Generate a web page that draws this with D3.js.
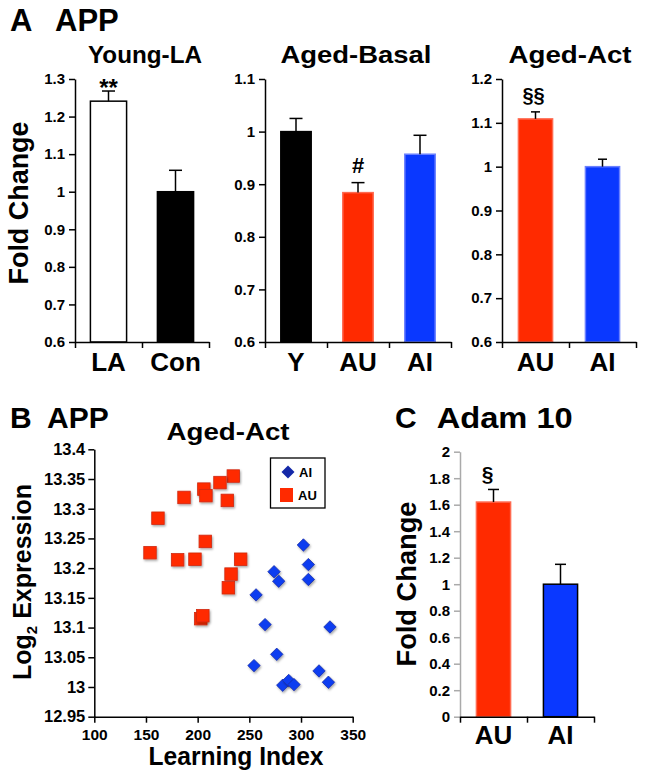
<!DOCTYPE html>
<html><head><meta charset="utf-8">
<script src="https://cdn.jsdelivr.net/npm/d3@7/dist/d3.min.js"></script>
<style>body{margin:0;background:#fff}svg{display:block}text{font-family:"Liberation Sans",Arial,sans-serif;font-weight:bold}</style>
</head><body>
<script>
// ---------- data ----------
const youngCats = ["LA", "Con"];
const youngVals = [1.241, 1.0];
const youngErr = [0.027, 0.057];
const youngTicks = [0.6, 0.7, 0.8, 0.9, 1.0, 1.1, 1.2, 1.3];
const youngTickLabels = ["0.6", "0.7", "0.8", "0.9", "1", "1.1", "1.2", "1.3"];

const basalCats = ["Y", "AU", "AI"];
const basalVals = [1.0, 0.884, 0.957];
const basalErr = [0.025, 0.019, 0.036];
const basalTicks = [0.6, 0.7, 0.8, 0.9, 1.0, 1.1];
const basalTickLabels = ["0.6", "0.7", "0.8", "0.9", "1", "1.1"];

const actCats = ["AU", "AI"];
const actVals = [1.109, 1.0];
const actErr = [0.016, 0.017];
const actTicks = [0.6, 0.7, 0.8, 0.9, 1.0, 1.1, 1.2];
const actTickLabels = ["0.6", "0.7", "0.8", "0.9", "1", "1.1", "1.2"];

const adamCats = ["AU", "AI"];
const adamVals = [1.62, 1.0];
const adamErr = [0.095, 0.15];
const adamTicks = [0, 0.2, 0.4, 0.6, 0.8, 1.0, 1.2, 1.4, 1.6, 1.8, 2.0];
const adamTickLabels = ["0", "0.2", "0.4", "0.6", "0.8", "1", "1.2", "1.4", "1.6", "1.8", "2"];

// scatter (Learning Index, Log2 Expression)
const auLearning = [234.5, 221.6, 206, 208, 186.8, 228.7, 161.6, 207.4, 153.9, 180.6, 197.4, 241.6, 232.3, 229.7, 203, 205];
const auExpr =     [13.355, 13.344, 13.333, 13.322, 13.319, 13.314, 13.284, 13.245, 13.226, 13.214, 13.215, 13.215, 13.190, 13.167, 13.115, 13.120];
const aiLearning = [302.3, 307.1, 307.1, 273.9, 278.4, 256.5, 265.2, 328, 276.5, 254.5, 317.4, 326.5, 282.3, 288.1, 293.2];
const aiExpr =     [13.239, 13.206, 13.181, 13.194, 13.178, 13.155, 13.105, 13.101, 13.055, 13.036, 13.027, 13.008, 13.003, 13.011, 13.004];
const scatterXTicks = [100, 150, 200, 250, 300, 350];
const scatterYTicks = [12.95, 13, 13.05, 13.1, 13.15, 13.2, 13.25, 13.3, 13.35, 13.4];
const scatterYTickLabels = ["12.95", "13", "13.05", "13.1", "13.15", "13.2", "13.25", "13.3", "13.35", "13.4"];

// ---------- drawing ----------
const RED = "#ff2a00", BLUE = "#0a38ff";
const svg = d3.select("body").append("svg").attr("width", 647).attr("height", 778);
const defs = svg.append("defs");
const f = defs.append("filter").attr("id", "sh").attr("x", "-50%").attr("y", "-50%").attr("width", "200%").attr("height", "200%");
f.append("feDropShadow").attr("dx", 1).attr("dy", 1.5).attr("stdDeviation", 1.2).attr("flood-color", "#000").attr("flood-opacity", 0.35);

function label(g, str, x, y, size, opts = {}) {
  const t = g.append("text").attr("x", x).attr("y", y).attr("font-size", size)
    .attr("text-anchor", opts.anchor || "middle").text(str);
  if (opts.width) t.attr("textLength", opts.width).attr("lengthAdjust", "spacingAndGlyphs");
  if (opts.rotate) t.attr("transform", `rotate(-90,${x},${y})`);
  return t;
}

function barPanel(cfg) {
  const g = svg.append("g");
  const y = d3.scaleLinear().domain(cfg.domain).range(cfg.yRange);
  const x = d3.scaleBand().domain(cfg.cats).range(cfg.xRange)
    .paddingInner(cfg.pad).paddingOuter(cfg.pad / 2);
  const xb = d3.scaleLinear().domain([0, cfg.cats.length]).range(cfg.xRange);
  // y axis
  const ya = g.append("g").attr("transform", `translate(${cfg.xRange[0]},0)`)
    .call(d3.axisLeft(y).tickValues(cfg.ticks).tickFormat((d, i) => cfg.tickLabels[i]).tickSize(6).tickSizeOuter(0).tickPadding(4));
  ya.selectAll("path,line").attr("stroke", cfg.yAxisColor || "#000").attr("stroke-width", 1.5);
  ya.selectAll("text").attr("font-size", cfg.tickSize || 15).attr("fill", "#000")
    .attr("font-family", '"Liberation Sans",Arial,sans-serif').attr("font-weight", "bold");
  // bars
  g.selectAll("rect.bar").data(cfg.vals).enter().append("rect")
    .attr("x", (d, i) => x(cfg.cats[i])).attr("width", x.bandwidth())
    .attr("y", d => y(d)).attr("height", d => y(cfg.domain[0]) - y(d))
    .attr("fill", (d, i) => cfg.colors[i])
    .attr("stroke", (d, i) => cfg.strokes[i]).attr("stroke-width", 1.5);
  // error bars
  cfg.vals.forEach((v, i) => {
    const cx = x(cfg.cats[i]) + x.bandwidth() / 2;
    g.append("line").attr("x1", cx).attr("x2", cx).attr("y1", y(v)).attr("y2", y(v + cfg.err[i])).attr("stroke", "#000").attr("stroke-width", 1.5);
    g.append("line").attr("x1", cx - cfg.cap / 2).attr("x2", cx + cfg.cap / 2).attr("y1", y(v + cfg.err[i])).attr("y2", y(v + cfg.err[i])).attr("stroke", "#000").attr("stroke-width", 1.5);
  });
  // x axis with boundary ticks
  const xa = g.append("g").attr("transform", `translate(0,${cfg.yRange[0]})`)
    .call(d3.axisBottom(xb).tickValues(d3.range(cfg.cats.length + 1)).tickFormat("").tickSize(6).tickSizeOuter(0));
  xa.selectAll("path,line").attr("stroke", "#000").attr("stroke-width", 1.5);
  cfg.cats.forEach((c, i) => label(g, c, x(c) + x.bandwidth() / 2, cfg.labelY, cfg.labelSize || 26));
  // annotations
  (cfg.marks || []).forEach(m => label(g, m.text, x(m.cat) + x.bandwidth() / 2 + (m.dx || 0), m.y, m.size));
  return g;
}

// Panel A titles
label(svg, "A", 10, 31, 31, {anchor: "start"});
label(svg, "APP", 55, 31, 31, {anchor: "start"});
label(svg, "Young-LA", 145, 63, 24, {width: 114});
label(svg, "Aged-Basal", 356, 63, 24, {width: 151});
label(svg, "Aged-Act", 570, 63, 24, {width: 123});
label(svg, "Fold Change", 28, 203, 27, {rotate: true, width: 163});

barPanel({cats: youngCats, vals: youngVals, err: youngErr, domain: [0.6, 1.3], ticks: youngTicks, tickLabels: youngTickLabels,
  xRange: [75, 209], yRange: [342, 79], pad: 0.46, colors: ["#fff", "#000"], strokes: ["#000", "#000"], cap: 13, labelY: 371,
  marks: [{cat: "LA", text: "**", y: 96, size: 24}]});
barPanel({cats: basalCats, vals: basalVals, err: basalErr, domain: [0.6, 1.1], ticks: basalTicks, tickLabels: basalTickLabels,
  xRange: [265, 451], yRange: [342, 79], pad: 0.51, colors: ["#000", RED, BLUE], strokes: ["#000", "#ff6a50", "#6a80ff"], cap: 13, labelY: 371,
  marks: [{cat: "AU", text: "#", y: 173, size: 22}]});
barPanel({cats: actCats, vals: actVals, err: actErr, domain: [0.6, 1.2], ticks: actTicks, tickLabels: actTickLabels,
  xRange: [502, 636], yRange: [342, 79], pad: 0.49, colors: [RED, BLUE], strokes: ["#ff6a50", "#6a80ff"], cap: 9, labelY: 371,
  marks: [{cat: "AU", text: "§§", y: 102, size: 20, dx: -2}]});

// Panel C
label(svg, "C", 395, 428, 30, {anchor: "start"});
label(svg, "Adam 10", 436.7, 428, 30, {anchor: "start", width: 136});
label(svg, "Fold Change", 416, 584, 27, {rotate: true, width: 165});
barPanel({cats: adamCats, vals: adamVals, err: adamErr, domain: [0, 2], ticks: adamTicks, tickLabels: adamTickLabels,
  xRange: [460, 594], yRange: [716.7, 451.7], pad: 0.49, colors: [RED, BLUE], strokes: ["#ff6a50", "#000"], cap: 11, labelY: 744,
  yAxisColor: "#aaa", marks: [{cat: "AU", text: "§", y: 481, size: 21, dx: -6}]});

// Panel B scatter
const gB = svg.append("g");
label(gB, "B", 10, 428, 30, {anchor: "start"});
label(gB, "APP", 47, 428, 30, {anchor: "start"});
label(gB, "Aged-Act", 228, 440, 24, {width: 123});
const xs = d3.scaleLinear().domain([100, 350]).range([94.3, 352.7]);
const ys = d3.scaleLinear().domain([12.95, 13.4]).range([716.7, 449.3]);
const bya = gB.append("g").attr("transform", "translate(94.3,0)")
  .call(d3.axisLeft(ys).tickValues(scatterYTicks).tickFormat((d, i) => scatterYTickLabels[i]).tickSize(6).tickSizeOuter(0).tickPadding(3));
const bxa = gB.append("g").attr("transform", "translate(0,716.7)")
  .call(d3.axisBottom(xs).tickValues(scatterXTicks).tickSize(6).tickSizeOuter(0).tickPadding(6));
[bya, bxa].forEach(a => {
  a.selectAll("path,line").attr("stroke", "#000").attr("stroke-width", 1.5);
  a.selectAll("text").attr("fill", "#000").attr("font-family", '"Liberation Sans",Arial,sans-serif').attr("font-weight", "bold");
});
bya.selectAll("text").attr("font-size", 16.5);
bxa.selectAll("text").attr("font-size", 15.5);
label(gB, "Learning Index", 236, 765, 25, {width: 175});
const yl = gB.append("text").attr("font-size", 25).attr("text-anchor", "middle")
  .attr("transform", "translate(31,582) rotate(-90)");
yl.append("tspan").text("Log");
yl.append("tspan").attr("font-size", 15).attr("dy", 6).text("2");
yl.append("tspan").attr("dy", -6).text(" Expression");

const sq = 12.5;
gB.selectAll("rect.au").data(auLearning).enter().append("rect")
  .attr("x", (d) => xs(d) - sq / 2).attr("y", (d, i) => ys(auExpr[i]) - sq / 2)
  .attr("width", sq).attr("height", sq).attr("fill", RED).attr("stroke", "#d02a10").attr("stroke-width", 0.8)
  .attr("filter", "url(#sh)");
const dia = "M0,-6.2L6.2,0L0,6.2L-6.2,0Z";
gB.selectAll("path.ai").data(aiLearning).enter().append("path")
  .attr("d", dia).attr("transform", (d, i) => `translate(${xs(d)},${ys(aiExpr[i])})`)
  .attr("fill", "#0a3cf0").attr("stroke", "#1a2fa8").attr("stroke-width", 0.8).attr("filter", "url(#sh)");

// legend
gB.append("rect").attr("x", 270.5).attr("y", 458).attr("width", 54.5).attr("height", 50)
  .attr("fill", "#fff").attr("stroke", "#000").attr("stroke-width", 1.3);
gB.append("path").attr("d", "M0,-6.5L6.5,0L0,6.5L-6.5,0Z").attr("transform", "translate(288,472)").attr("fill", "#1428a8");
label(gB, "AI", 299, 477, 13, {anchor: "start"});
gB.append("rect").attr("x", 280).attr("y", 488).attr("width", 13).attr("height", 14).attr("fill", RED);
label(gB, "AU", 298, 500, 13, {anchor: "start"});
</script>
</body></html>
